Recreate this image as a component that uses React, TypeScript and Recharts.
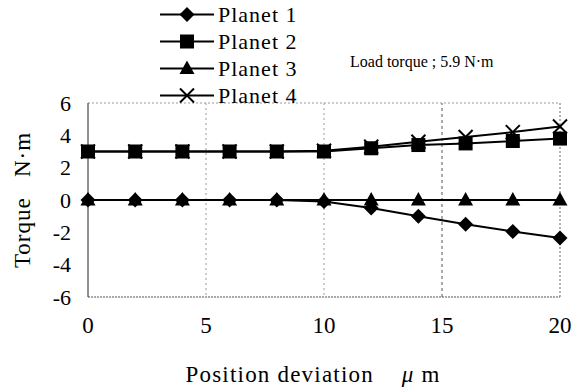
import React from "react";
import { LineChart, Line, XAxis, YAxis, CartesianGrid, ReferenceLine } from "recharts";

const positions = [0, 2, 4, 6, 8, 10, 12, 14, 16, 18, 20];
const planet1 = [0, 0, 0, 0, 0, -0.1, -0.5, -1.0, -1.5, -1.95, -2.35];
const planet2 = [3, 3, 3, 3, 3, 3, 3.2, 3.4, 3.5, 3.65, 3.8];
const planet3 = [0, 0, 0, 0, 0, 0, 0, 0, 0, 0, 0];
const planet4 = [3, 3, 3, 3, 3, 3.05, 3.3, 3.6, 3.9, 4.2, 4.55];
const xTicks = [0, 5, 10, 15, 20];
const yTicks = [-6, -4, -2, 0, 2, 4, 6];
const seriesNames = ["Planet 1", "Planet 2", "Planet 3", "Planet 4"];

const data = positions.map((x, i) => ({
  x,
  p1: planet1[i],
  p2: planet2[i],
  p3: planet3[i],
  p4: planet4[i],
}));

const FONT = "'Liberation Serif', 'Times New Roman', serif";

type Shape = "diamond" | "square" | "triangle" | "cross";

function Marker({ cx, cy, shape }: { cx: number; cy: number; shape: Shape }) {
  if (shape === "diamond") {
    const r = 7.5;
    return <polygon points={`${cx},${cy - r} ${cx + r},${cy} ${cx},${cy + r} ${cx - r},${cy}`} fill="#000" />;
  }
  if (shape === "square") {
    const s = 7;
    return <rect x={cx - s} y={cy - s} width={2 * s} height={2 * s} fill="#000" />;
  }
  if (shape === "triangle") {
    return <polygon points={`${cx},${cy - 8} ${cx + 7.5},${cy + 5.5} ${cx - 7.5},${cy + 5.5}`} fill="#000" />;
  }
  const r = 7;
  return (
    <g stroke="#000" strokeWidth={2}>
      <line x1={cx - r} y1={cy - r} x2={cx + r} y2={cy + r} />
      <line x1={cx - r} y1={cy + r} x2={cx + r} y2={cy - r} />
    </g>
  );
}

const dotFor = (shape: Shape) => (props: any) => {
  const { cx, cy, index } = props;
  if (cx == null || cy == null) return <g key={`${shape}-${index}`} />;
  return (
    <g key={`${shape}-${index}`}>
      <Marker cx={cx} cy={cy} shape={shape} />
    </g>
  );
};

const shapes: Shape[] = ["diamond", "square", "triangle", "cross"];

const LegendBlock = () => (
  <div style={{ position: "absolute", left: 160, top: 1, fontFamily: FONT }}>
    {seriesNames.map((name, i) => (
      <div key={name} style={{ display: "flex", alignItems: "center", height: 27 }}>
        <svg width={58} height={27} style={{ display: "block" }}>
          <line x1={0} y1={13.5} x2={54} y2={13.5} stroke="#000" strokeWidth={2} />
          <Marker cx={27} cy={13.5} shape={shapes[i]} />
        </svg>
        <span style={{ fontSize: 22, letterSpacing: 1, color: "#000", lineHeight: "27px", fontFamily: FONT }}>{name}</span>
      </div>
    ))}
  </div>
);

export default function App() {
  return (
    <div style={{ position: "absolute", left: 0, top: 0, width: 588, height: 390, background: "#fff" }}>
      <LineChart
        width={588}
        height={390}
        data={data}
        margin={{ top: 103, right: 28, bottom: 63, left: 0 }}
      >
        <CartesianGrid
          horizontal={false}
          verticalValues={[5, 10]}
          stroke="#999"
          strokeDasharray="2 3"
        />
        <ReferenceLine x={15} stroke="#555" strokeDasharray="3 3" />
        <ReferenceLine y={6} stroke="#999" strokeDasharray="2 2" />
        <ReferenceLine x={20} stroke="#666" strokeDasharray="2 2" />
        <XAxis
          dataKey="x"
          type="number"
          domain={[0, 20]}
          ticks={xTicks}
          interval={0}
          height={30}
          tickLine={false}
          tickSize={0}
          tickMargin={20}
          axisLine={{ stroke: "#555", strokeDasharray: "2 1" }}
          tick={{ fill: "#000", fontSize: 23, fontFamily: FONT }}
          label={{
            content: (p: any) => {
              const vb = p.viewBox;
              return (
                <text
                  x={313}
                  y={vb.y + 85}
                  textAnchor="middle"
                  fill="#000"
                  fontSize={23}
                  fontFamily={FONT}
                  letterSpacing={1.2}
                >
                  Position deviation{"\u00a0\u00a0\u00a0\u00a0"}
                  <tspan fontStyle="italic">μ</tspan> m
                </text>
              );
            },
          }}
        />
        <YAxis
          type="number"
          domain={[-6, 6]}
          ticks={yTicks}
          interval={0}
          width={88}
          tickLine={false}
          tickSize={0}
          tickMargin={17}
          axisLine={{ stroke: "#222" }}
          tick={{ fill: "#000", fontSize: 22, fontFamily: FONT }}
          label={{
            content: (p: any) => {
              const vb = p.viewBox;
              const cx = 22;
              const cy = vb.y + vb.height / 2;
              return (
                <text
                  x={cx}
                  y={cy}
                  transform={`rotate(-90, ${cx}, ${cy})`}
                  textAnchor="middle"
                  dominantBaseline="central"
                  fill="#000"
                  fontSize={23}
                  fontFamily={FONT}
                  letterSpacing={1}
                >
                  Torque{"\u00a0\u00a0\u00a0"}N·m
                </text>
              );
            },
          }}
        />
        <Line dataKey="p1" name="Planet 1" stroke="#000" strokeWidth={2} isAnimationActive={false} dot={dotFor("diamond")} activeDot={false} />
        <Line dataKey="p2" name="Planet 2" stroke="#000" strokeWidth={2} isAnimationActive={false} dot={dotFor("square")} activeDot={false} />
        <Line dataKey="p3" name="Planet 3" stroke="#000" strokeWidth={2} isAnimationActive={false} dot={dotFor("triangle")} activeDot={false} />
        <Line dataKey="p4" name="Planet 4" stroke="#000" strokeWidth={2} isAnimationActive={false} dot={dotFor("cross")} activeDot={false} />
      </LineChart>
      <LegendBlock />
      <div
        style={{
          position: "absolute",
          left: 350,
          top: 53,
          fontFamily: FONT,
          fontSize: 16,
          letterSpacing: 0,
          color: "#000",
          whiteSpace: "nowrap",
        }}
      >
        Load torque ; 5.9 N·m
      </div>
    </div>
  );
}
